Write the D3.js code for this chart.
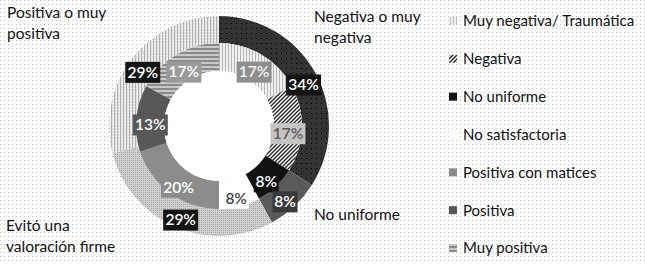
<!DOCTYPE html>
<html>
<head>
<meta charset="utf-8">
<script src="https://cdn.jsdelivr.net/npm/d3@7"></script>
<style>
  html, body { margin: 0; padding: 0; background: #fff; }
  svg { display: block; font-family: Lato, "Open Sans", sans-serif; }
</style>
</head>
<body>
<div id="chart"></div>
<script>
// anillo externo: valoracion global; anillo interno: detalle
const outerCats = ["Negativa o muy negativa", "No uniforme", "Evitó una valoración firme", "Positiva o muy positiva"];
const outerValues = [34, 8, 29, 29];
const innerCats = ["Muy negativa/ Traumática", "Negativa", "No uniforme", "No satisfactoria", "Positiva con matices", "Positiva", "Muy positiva"];
const innerValues = [17, 17, 8, 8, 20, 13, 17];

const W = 645, H = 264;
const cx = 219, cy = 126;
const rOuter = 110, rMid = 83, rHole = 55;

// rellenos (escala de grises con tramas)
const outerFill = ["url(#pDarkDots)", "#5a5a5a", "url(#pLightDots)", "url(#pVertDots)"];
const innerFill = ["url(#pVert)", "url(#pDiag)", "#111", "#fff", "#8c8c8c", "#585858", "url(#pHoriz)"];
const outerLabelStyle = [["#141414", "#fff"], ["#3a3a3a", "#fff"], ["#141414", "#fff"], ["#141414", "#fff"]];
const innerLabelStyle = [["#8e8e8e", "#f4f4f4"], ["#c4c4c4", "#5a5a5a"], ["#111", "#fff"], ["#fff", "#444"], ["#8c8c8c", "#fff"], ["#585858", "#fff"], ["#9a9a9a", "#fff"]];
const legendFill = ["url(#pVert)", "url(#pDiag)", "#111", "#fff", "#8c8c8c", "#585858", "url(#pHoriz)"];

const svg = d3.select("#chart").append("svg").attr("width", W).attr("height", H);
const defs = svg.append("defs");

function pattern(id, size, bg, draw) {
  const p = defs.append("pattern").attr("id", id).attr("patternUnits", "userSpaceOnUse")
    .attr("width", size).attr("height", size);
  p.append("rect").attr("width", size).attr("height", size).attr("fill", bg);
  draw(p);
}
pattern("pBg", 4, "#fff", (p) => p.append("rect").attr("width", 1).attr("height", 1).attr("fill", "#c4c4c4"));
pattern("pDarkDots", 5, "#333", (p) => p.append("rect").attr("x", 2).attr("y", 2).attr("width", 1).attr("height", 1).attr("fill", "#000"));
pattern("pLightDots", 2, "#cfcfcf", (p) => p.append("rect").attr("width", 1).attr("height", 1).attr("fill", "#a8a8a8"));
pattern("pVertDots", 3, "#e4e4e4", (p) => {
  p.append("rect").attr("width", 1).attr("height", 3).attr("fill", "#b0b0b0");
  p.append("rect").attr("x", 2).attr("y", 1).attr("width", 1).attr("height", 1).attr("fill", "#fff");
});
pattern("pVert", 3, "#f0f0f0", (p) => p.append("rect").attr("width", 1).attr("height", 3).attr("fill", "#b5b5b5"));
pattern("pHoriz", 4, "#8a8a8a", (p) => p.append("rect").attr("width", 4).attr("height", 2).attr("fill", "#c8c8c8"));
pattern("pDiag", 4, "#fff", (p) => p.append("path").attr("d", "M-1,1 l2,-2 M0,4 l4,-4 M3,5 l2,-2")
  .attr("stroke", "#222").attr("stroke-width", 1.3));

svg.append("rect").attr("width", W).attr("height", H).attr("fill", "url(#pBg)");

const pie = d3.pie().sort(null).value((d) => d);
const arcOuter = d3.arc().innerRadius(rMid).outerRadius(rOuter);
const arcInner = d3.arc().innerRadius(rHole).outerRadius(rMid);

const g = svg.append("g").attr("transform", `translate(${cx},${cy})`);

const outerArcs = pie(outerValues);
const innerArcs = pie(innerValues);

g.selectAll("path.outer").data(outerArcs).join("path").attr("class", "outer")
  .attr("d", arcOuter).attr("fill", (d, i) => outerFill[i]);
g.selectAll("path.inner").data(innerArcs).join("path").attr("class", "inner")
  .attr("d", arcInner).attr("fill", (d, i) => innerFill[i]);
g.append("circle").attr("r", rHole).attr("fill", "#fff");

function addLabels(arcs, arcGen, styles) {
  arcs.forEach((d, i) => {
    const [x, y] = arcGen.centroid(d);
    const lg = g.append("g").attr("transform", `translate(${x},${y + 5})`);
    const txt = `${d.data}%`;
    const w = txt.length * 10 + 5;
    lg.append("rect").attr("x", -w / 2).attr("y", -10).attr("width", w).attr("height", 21)
      .attr("fill", styles[i][0]);
    lg.append("text").attr("text-anchor", "middle").attr("dy", "0.38em")
      .attr("font-size", 15.5).attr("font-weight", 600).attr("fill", styles[i][1]).text(txt);
  });
}
addLabels(innerArcs, arcInner, innerLabelStyle);
addLabels(outerArcs, arcOuter, outerLabelStyle);

// rotulos del anillo externo
const outerText = [
  { lines: ["Negativa o muy", "negativa"], x: 314, y: 22 },
  { lines: ["No uniforme"], x: 314, y: 220 },
  { lines: ["Evitó una", "valoración firme"], x: 6, y: 231 },
  { lines: ["Positiva o muy", "positiva"], x: 7, y: 18 },
];
outerText.forEach((t) => {
  const el = svg.append("text").attr("x", t.x).attr("y", t.y).attr("font-size", 15.5).attr("fill", "#111");
  t.lines.forEach((ln, j) => el.append("tspan").attr("x", t.x).attr("dy", j ? 20.5 : 0).text(ln));
});

// leyenda
const legendY = d3.scalePoint().domain(innerCats).range([21, 248]);
const leg = svg.append("g");
innerCats.forEach((c, i) => {
  const y = legendY(c);
  leg.append("rect").attr("x", 449).attr("y", y - 4).attr("width", 8).attr("height", 8).attr("fill", legendFill[i]);
  leg.append("text").attr("x", 463).attr("y", y).attr("dy", "0.36em").attr("font-size", 15)
    .attr("fill", "#111").text(c);
});
</script>
</body>
</html>
